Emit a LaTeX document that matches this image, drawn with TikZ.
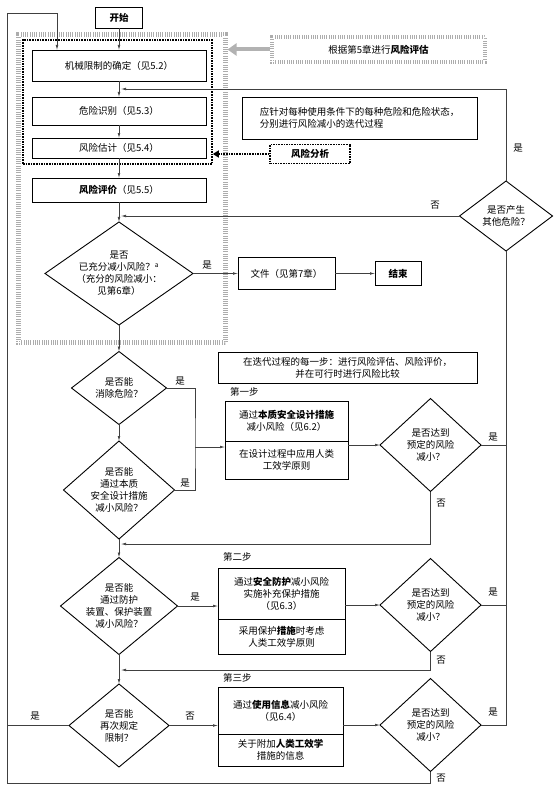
\documentclass[tikz,border=0pt]{standalone}
\usepackage{fontspec}
\setmainfont{Noto Sans CJK SC}
\usetikzlibrary{arrows.meta,positioning,shapes.geometric}

\begin{document}
\begin{tikzpicture}[x=1pt, y=-1pt,
  every node/.style={font=\fontsize{9.5}{12}\selectfont},
  box/.style={draw, line width=0.9pt, outer sep=0pt, align=center, inner sep=2pt},
  dia/.style={draw, diamond, line width=0.9pt, outer sep=0pt, inner sep=0pt},
  dtxt/.style={align=center, inner sep=0pt},
  lbl/.style={inner sep=1pt},
  arr/.style={-{Latex[length=5pt,width=2.6pt]}, line width=0.6pt, draw=black!75},
  ln/.style={line width=0.6pt, draw=black!75},
  gframe/.style={draw=gray!65, line width=#1,
                 postaction={draw=white, line width=#1, dash pattern=on 0.5pt off 1.3pt}},
  gframe/.default=5pt,
  dframe/.style={draw, line width=1.6pt, dash pattern=on 1.6pt off 1pt},
  garr/.style={draw=gray!60, line width=4pt, -{Triangle[length=9pt,width=12pt]}},
  darr/.style={draw, line width=1.6pt, dash pattern=on 1.6pt off 1pt,
               -{Triangle[length=6pt,width=7pt]}}
]
\useasboundingbox (0,0) rectangle (555,789);

%% Risk assessment frames
\node[gframe, minimum width=207pt, minimum height=307pt] (assess) at (121.5,188.5) {};
\node[dframe, minimum width=189pt, minimum height=124pt] (anaframe) at (117.5,102) {};

%% Main column, x = 119
\node[box, minimum width=47pt, minimum height=21pt] (start) at (119,17.5) {\textbf{开始}};
\node[box, minimum width=174pt, minimum height=31pt] (limits) at (119,65.5) {机械限制的确定（见5.2）};
\node[box, minimum width=174pt, minimum height=28pt] (hazid) at (119,111) {危险识别（见5.3）};
\node[box, minimum width=174pt, minimum height=20pt] (estim) at (119,148) {风险估计（见5.4）};
\node[box, minimum width=174pt, minimum height=24pt] (evalu) at (119,190) {\textbf{风险评价}（见5.5）};

\node[dia, minimum width=148pt, minimum height=103pt] (enough) at (119,273.5) {};
\node[dtxt] (enought) at (enough) {是否\\已充分减小风险？\textsuperscript{a}\\（充分的风险减小：\\见第6章）};
\node[box, minimum width=97pt, minimum height=32pt] (doc) at (286.5,273.5) {文件（见第7章）};
\node[box, minimum width=46pt, minimum height=24pt] (stop) at (398,273.5) {\textbf{结束}};

%% Notes on the right
\node[gframe=4pt, minimum width=213pt, minimum height=25pt] (chap5) at (378.5,49.5) {根据第5章进行\textbf{风险评估}};
\node[box, align=left, minimum width=235pt, minimum height=42pt] (note1) at (359.5,118)
  {应针对每种使用条件下的每种危险和危险状态，\\分别进行风险减小的迭代过程};
\node[dframe, minimum width=80pt, minimum height=19pt, inner sep=1pt] (anal) at (310,154) {\textbf{风险分析}};
\node[dia, minimum width=93pt, minimum height=70pt] (other) at (506,216) {};
\node[dtxt] (othert) at (other) {是否产生\\其他危险？};
\node[box, minimum width=259pt, minimum height=31pt] (note2) at (347.5,367.5)
  {在迭代过程的每一步：进行风险评估、风险评价，\\并在可行时进行风险比较};

%% Step 1
\node[dia, minimum width=95pt, minimum height=73pt] (elim) at (119,388) {};
\node[dtxt] (elimt) at (elim) {是否能\\消除危险？};
\node[dia, minimum width=111pt, minimum height=98pt] (inher) at (119,490) {};
\node[dtxt] (inhert) at (inher) {是否能\\通过本质\\安全设计措施\\减小风险？};
\node[anchor=west, inner sep=0pt] (step1) at (230,392) {第一步};
\node[box, minimum width=123pt, minimum height=40pt] (s1a) at (286.5,421) {通过\textbf{本质安全设计措施}\\减小风险（见6.2）};
\node[box, minimum width=123pt, minimum height=38pt, below=0pt of s1a] (s1b) {在设计过程中应用人类\\工效学原则};
\node[dia, minimum width=101pt, minimum height=93pt] (chk1) at (430.5,445) {};
\node[dtxt] (chk1t) at (chk1) {是否达到\\预定的风险\\减小？};

%% Step 2
\node[dia, minimum width=117pt, minimum height=97pt] (guard) at (119,606) {};
\node[dtxt] (guardt) at (guard) {是否能\\通过防护\\装置、保护装置\\减小风险？};
\node[anchor=west, inner sep=0pt] (step2) at (223,557) {第二步};
\node[box, minimum width=127pt, minimum height=51pt] (s2a) at (281.5,593.5) {通过\textbf{安全防护}减小风险\\实施补充保护措施\\（见6.3）};
\node[box, minimum width=127pt, minimum height=35pt, below=0pt of s2a] (s2b) {采用保护\textbf{措施}时考虑\\人类工效学原则};
\node[dia, minimum width=101pt, minimum height=93pt] (chk2) at (430.5,605) {};
\node[dtxt] (chk2t) at (chk2) {是否达到\\预定的风险\\减小？};

%% Step 3
\node[dia, minimum width=100pt, minimum height=83pt] (limit) at (119,725.5) {};
\node[dtxt] (limitt) at (limit) {是否能\\再次规定\\限制？};
\node[anchor=west, inner sep=0pt] (step3) at (223,678) {第三步};
\node[box, minimum width=125pt, minimum height=47pt] (s3a) at (280.5,710.5) {通过\textbf{使用信息}减小风险\\（见6.4）};
\node[box, minimum width=125pt, minimum height=32pt, below=0pt of s3a] (s3b) {关于附加\textbf{人类工效学}\\措施的信息};
\node[dia, minimum width=101pt, minimum height=93pt] (chk3) at (430.5,725) {};
\node[dtxt] (chk3t) at (chk3) {是否达到\\预定的风险\\减小？};

%% Junction points
\coordinate (m1) at (121,89);
\coordinate (m2) at (121,216);
\coordinate (m3) at (121,544);
\coordinate (m4) at (121,670);
\coordinate (j1) at (195,447);
\coordinate (bl) at (7,783);
\coordinate (tl) at (7,13);
\coordinate (in1) at (57,13);

%% Main flow
\draw[arr] (start) -- (limits);
\draw[arr] (limits) -- (hazid);
\draw[arr] (hazid) -- (estim);
\draw[arr] (estim) -- (evalu);
\draw[arr] (evalu) -- (enough);
\draw[arr] (enough) -- (elim);
\draw[arr] (elim) -- (inher);
\draw[arr] (inher) -- (guard);
\draw[arr] (guard) -- (limit);
\draw[arr] (enough.east) -- (doc.west);
\draw[arr] (doc) -- (stop);

%% Side inputs
\draw[garr] (chap5.west) -- (chap5.west -| assess.east);
\draw[darr] (anal.west) -- (anal.west -| anaframe.east);

%% Step branches
\draw[ln] (elim.east) -| (j1) |- (inher.east);
\draw[arr] (j1) -- (j1 -| s1b.west);
\draw[arr] (chk1.west -| s1a.east) -- (chk1.west);
\draw[arr] (guard.east) -- (guard.east -| s2a.west);
\draw[arr] (chk2.west -| s2a.east) -- (chk2.west);
\draw[arr] (limit.east) -- (limit.east -| s3a.west);
\draw[arr] (chk3.west -| s3a.east) -- (chk3.west);

%% Loops back
\draw[arr] (chk1.south) |- (m3);
\draw[arr] (chk2.south) |- (m4);
\draw[arr] (chk3.south) |- (bl) -- (tl) -- (in1) -- (in1 |- limits.north);
\draw[ln] (limit.west) -- (limit.west -| bl);
\draw[ln] (chk1.east) -- (chk1.east -| other.south);
\draw[ln] (chk2.east) -- (chk2.east -| other.south);
\draw[ln] (chk3.east) -| (other.south);
\draw[arr] (other.north) |- (m1);
\draw[arr] (other.west) -- (m2);

%% Yes / no labels
\node[lbl] (yes0) at (518,148) {是};
\node[lbl] (no0) at (435,205) {否};
\node[lbl] (yes1) at (207,265) {是};
\node[lbl] (yes2) at (180,381) {是};
\node[lbl] (yes3) at (185,483) {是};
\node[lbl] (yes4) at (493,437) {是};
\node[lbl] (no4) at (441,503) {否};
\node[lbl] (yes5) at (195,597) {是};
\node[lbl] (yes6) at (493,592) {是};
\node[lbl] (no6) at (441,660) {否};
\node[lbl] (yes7) at (35,716) {是};
\node[lbl] (no7) at (190,716) {否};
\node[lbl] (yes8) at (493,712) {是};
\node[lbl] (no8) at (441,778) {否};
\end{tikzpicture}
\end{document}
